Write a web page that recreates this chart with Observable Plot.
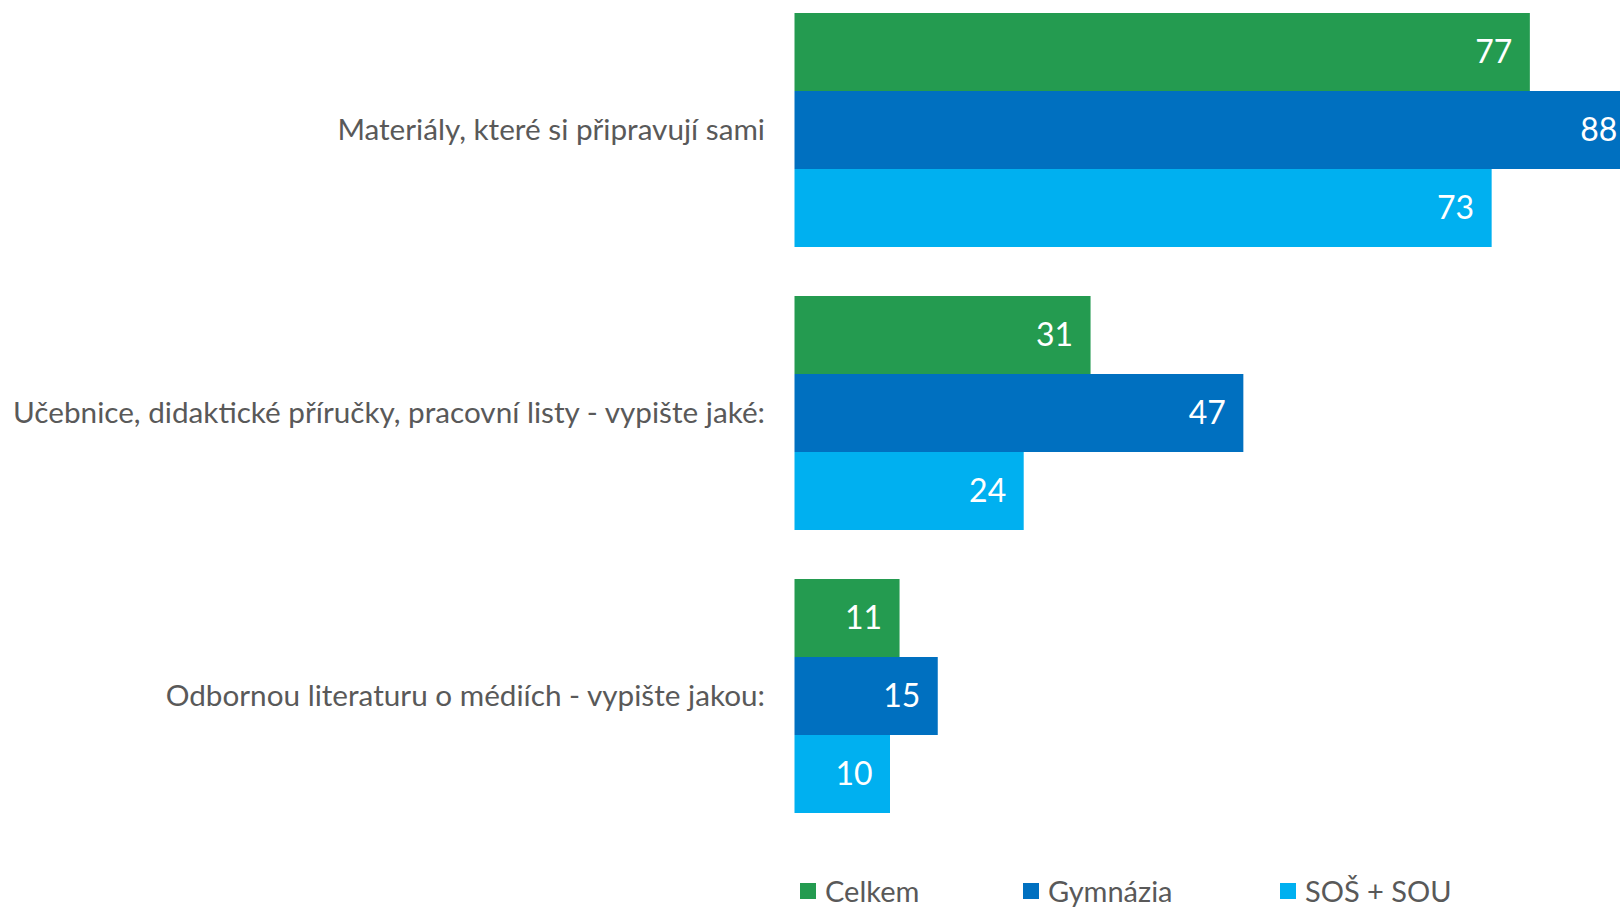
<!DOCTYPE html>
<html>
<head>
<meta charset="utf-8">
<script src="https://cdn.jsdelivr.net/npm/d3@7"></script>
<script src="https://cdn.jsdelivr.net/npm/@observablehq/plot@0.6"></script>
<style>
  html, body { margin: 0; padding: 0; background: #fff; overflow: hidden; }
  #wrap { position: relative; width: 1620px; height: 907px; font-family: Lato, "Open Sans", sans-serif; }
  #legend { position: absolute; left: 0; top: 862px; width: 1620px; height: 57px; }
  .item { position: absolute; top: 0; height: 57px; display: flex; align-items: center; color: #595959; font-size: 29px; }
  .sw { width: 16px; height: 16px; margin-right: 9px; }
</style>
</head>
<body>
<div id="wrap"><div id="chart"></div><div id="legend"></div></div>
<script>
const categories = [
  "Materiály, které si připravují sami",
  "Učebnice, didaktické příručky, pracovní listy - vypište jaké:",
  "Odbornou literaturu o médiích - vypište jakou:"
];
const series = ["Celkem", "Gymnázia", "SOŠ + SOU"];
const celkem = [77, 31, 11];
const gymnazia = [88, 47, 15];
const sosSou = [73, 24, 10];
const colors = ["#249B50", "#0070C0", "#00B0F0"];

const valuesBySeries = [celkem, gymnazia, sosSou];
const data = [];
categories.forEach((c, i) => {
  series.forEach((s, j) => {
    data.push({category: c, series: s, value: valuesBySeries[j][i]});
  });
});

const chart = Plot.plot({
  width: 1620,
  height: 850,
  marginTop: 0,
  marginBottom: 23.6,
  marginLeft: 794.5,
  marginRight: 0,
  style: {fontFamily: "Lato, 'Open Sans', sans-serif", background: "white"},
  x: {domain: [0, 100], range: [794.5, 1749.5], axis: null},
  fy: {domain: categories, paddingInner: 0.168, paddingOuter: 0.044, axis: null, label: null},
  y: {domain: series, padding: 0, axis: null},
  color: {domain: series, range: colors},
  marks: [
    Plot.barX(data, {fy: "category", y: "series", x: "value", fill: "series"}),
    Plot.text(data, {fy: "category", y: "series", x: "value", text: d => String(d.value),
      textAnchor: "end", dx: -18, fill: "white", fontSize: 32}),
    Plot.axisFy({anchor: "left", tickSize: 0, tickPadding: 30, fontSize: 29.7, fill: "#595959", label: null})
  ]
});
document.getElementById("chart").appendChild(chart);

const legendX = [800, 1023, 1280];
const legend = document.getElementById("legend");
series.forEach((s, i) => {
  const it = document.createElement("div");
  it.className = "item";
  it.style.left = legendX[i] + "px";
  const sw = document.createElement("div");
  sw.className = "sw";
  sw.style.background = colors[i];
  const tx = document.createElement("span");
  tx.textContent = s;
  it.appendChild(sw); it.appendChild(tx);
  legend.appendChild(it);
});
</script>
</body>
</html>
